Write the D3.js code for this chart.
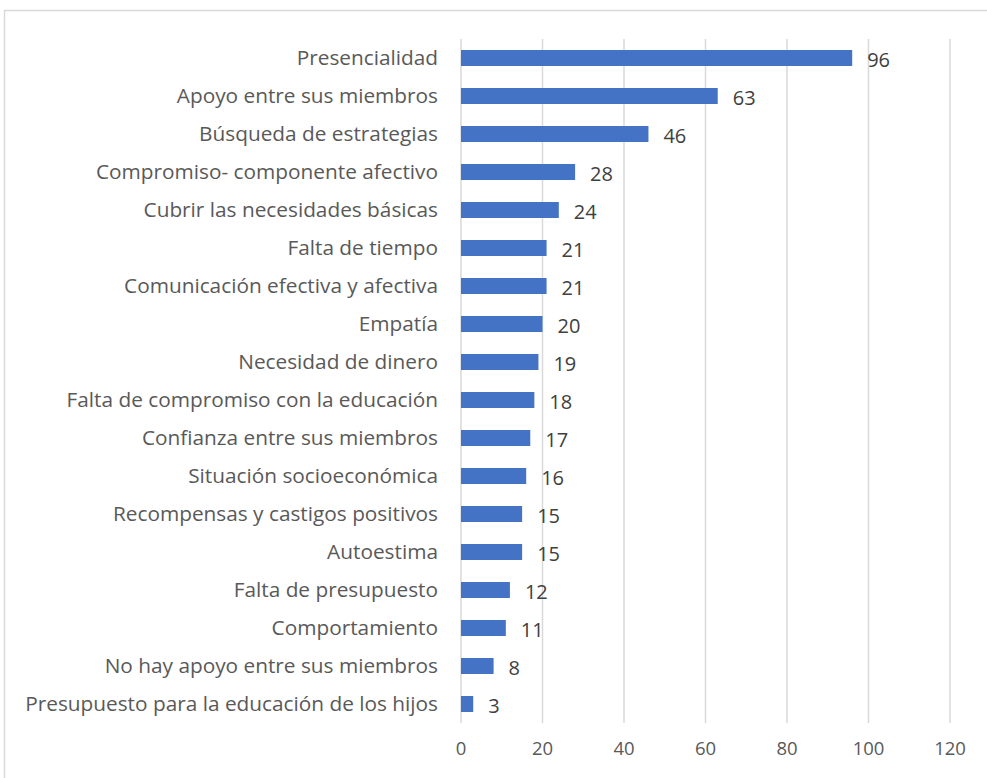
<!DOCTYPE html>
<html><head><meta charset="utf-8">
<script src="https://cdn.jsdelivr.net/npm/d3@7"></script>
<style>body{margin:0;background:#fff}svg{display:block}</style>
</head><body>
<script>
const categories = ["Presencialidad","Apoyo entre sus miembros","Búsqueda de estrategias","Compromiso- componente afectivo","Cubrir las necesidades básicas","Falta de tiempo","Comunicación efectiva y afectiva","Empatía","Necesidad de dinero","Falta de compromiso con la educación","Confianza entre sus miembros","Situación socioeconómica","Recompensas y castigos positivos","Autoestima","Falta de presupuesto","Comportamiento","No hay apoyo entre sus miembros","Presupuesto para la educación de los hijos"];
const values = [96,63,46,28,24,21,21,20,19,18,17,16,15,15,12,11,8,3];
const tickValues = [0,20,40,60,80,100,120];

const W=987,H=778;
const svg=d3.select("body").append("svg").attr("width",W).attr("height",H);
svg.append("rect").attr("x",4.5).attr("y",10.5).attr("width",W).attr("height",H).attr("fill","#fff").attr("stroke","#d9d9d9").attr("stroke-width",1.5);
const font="Open Sans, sans-serif";
const x=d3.scaleLinear().domain([0,120]).range([461,950]);
const y=d3.scaleBand().domain(categories).range([39,723]).paddingInner(0.58).paddingOuter(0.29);
svg.append("g").selectAll("line").data(tickValues).join("line")
 .attr("x1",d=>x(d)).attr("x2",d=>x(d)).attr("y1",39).attr("y2",723)
 .attr("stroke","#d9d9d9").attr("stroke-width",1.5);
svg.append("g").selectAll("rect").data(values).join("rect")
 .attr("x",x(0)).attr("y",(d,i)=>y(categories[i])).attr("width",d=>x(d)-x(0)).attr("height",y.bandwidth())
 .attr("fill","#4472c4");
svg.append("g").selectAll("text").data(values).join("text")
 .attr("x",d=>x(d)+15).attr("y",(d,i)=>y(categories[i])+y.bandwidth()/2+2).attr("dy","0.36em")
 .attr("font-family",font).attr("font-size",20).attr("fill","#404040").text(d=>d);
svg.append("g").selectAll("text").data(categories).join("text")
 .attr("x",438).attr("y",d=>y(d)+y.bandwidth()/2).attr("dy","0.36em").attr("text-anchor","end")
 .attr("font-family",font).attr("font-size",20.8).attr("fill","#595959").text(d=>d);
svg.append("g").selectAll("text").data(tickValues).join("text")
 .attr("x",d=>x(d)).attr("y",748).attr("dy","0.36em").attr("text-anchor","middle")
 .attr("font-family",font).attr("font-size",18.5).attr("fill","#595959").text(d=>d);
</script>
</body></html>
